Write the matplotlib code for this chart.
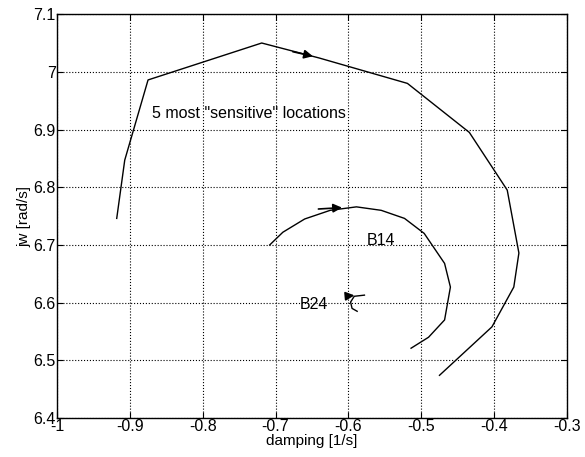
import matplotlib
matplotlib.use("Agg")
import matplotlib.pyplot as plt
import numpy as np

plt.rcParams['font.family'] = ['Liberation Sans', 'DejaVu Sans']

# outer locus (most sensitive locations)
outer_x = [-0.918, -0.907, -0.875, -0.719, -0.640, -0.519, -0.434, -0.382, -0.366, -0.373, -0.403, -0.475]
outer_y = [6.746, 6.847, 6.986, 7.050, 7.024, 6.980, 6.895, 6.795, 6.686, 6.627, 6.558, 6.474]

# B14 locus
b14_x = [-0.708, -0.690, -0.660, -0.625, -0.589, -0.555, -0.523, -0.496, -0.468, -0.460, -0.468, -0.490, -0.514]
b14_y = [6.700, 6.722, 6.745, 6.760, 6.766, 6.760, 6.746, 6.720, 6.668, 6.627, 6.570, 6.540, 6.521]

# B24 locus (tiny)
b24_x = [-0.578, -0.592, -0.597, -0.595, -0.588]
b24_y = [6.613, 6.611, 6.601, 6.590, 6.585]

fig = plt.figure(figsize=(5.85, 4.57), dpi=100)
ax = fig.add_axes([0.0974, 0.0853, 0.8718, 0.8837])

ax.plot(outer_x, outer_y, color='black', lw=1.0)
ax.plot(b14_x, b14_y, color='black', lw=1.0)
ax.plot(b24_x, b24_y, color='black', lw=1.0)

arr = dict(arrowstyle='-|>', color='black', lw=1.2, mutation_scale=13)
ax.annotate('', xy=(-0.645, 7.026), xytext=(-0.680, 7.036), arrowprops=arr)
ax.annotate('', xy=(-0.605, 6.765), xytext=(-0.645, 6.762), arrowprops=arr)
ax.annotate('', xy=(-0.588, 6.613), xytext=(-0.605, 6.611), arrowprops=arr)

ax.text(-0.870, 6.928, '5 most "sensitive" locations', fontsize=11.5, va='center', ha='left')
ax.text(-0.575, 6.708, 'B14', fontsize=11.5, va='center', ha='left')
ax.text(-0.667, 6.596, 'B24', fontsize=11.5, va='center', ha='left')

ax.set_xlim(-1, -0.3)
ax.set_ylim(6.4, 7.1)
ax.set_xticks(np.arange(-1, -0.29, 0.1))
ax.set_xticklabels(['-1', '-0.9', '-0.8', '-0.7', '-0.6', '-0.5', '-0.4', '-0.3'])
ax.set_yticks(np.arange(6.4, 7.11, 0.1))
ax.set_yticklabels(['6.4', '6.5', '6.6', '6.7', '6.8', '6.9', '7', '7.1'])
ax.tick_params(direction='in', top=True, right=True, labelsize=11.5, pad=1, length=4)
ax.grid(True, linestyle=':', color='black', lw=0.8)
for s in ax.spines.values():
    s.set_linewidth(1.0)

ax.set_xlabel('damping [1/s]', fontsize=11, labelpad=0)
ax.set_ylabel('jw [rad/s]', fontsize=11, labelpad=1)

fig.savefig('out.png', dpi=100)
